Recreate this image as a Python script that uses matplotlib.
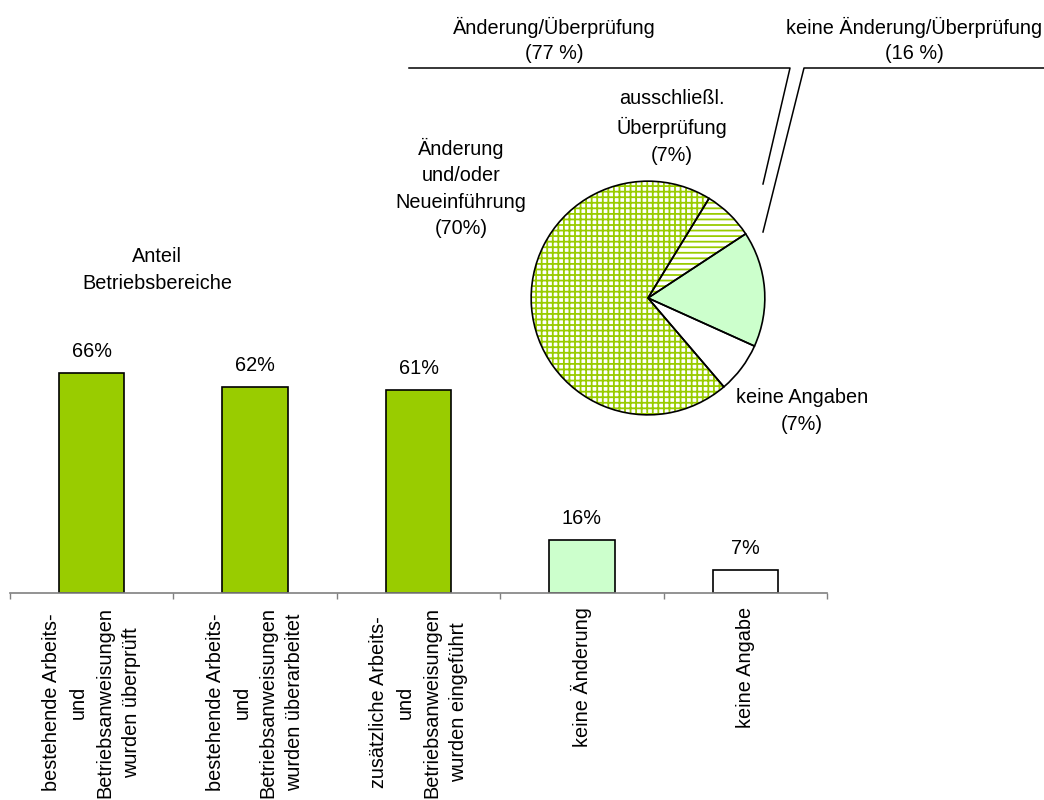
import matplotlib
matplotlib.use("Agg")
import matplotlib.pyplot as plt
from matplotlib.lines import Line2D

plt.rcParams['font.family'] = ['Liberation Sans', 'DejaVu Sans']
plt.rcParams['hatch.linewidth'] = 1.3

# bar chart data
categories = [
    "bestehende Arbeits-\nund\nBetriebsanweisungen\nwurden überprüft",
    "bestehende Arbeits-\nund\nBetriebsanweisungen\nwurden überarbeitet",
    "zusätzliche Arbeits-\nund\nBetriebsanweisungen\nwurden eingeführt",
    "keine Änderung",
    "keine Angabe",
]
bar_values = [66, 62, 61, 16, 7]
bar_colors = ["#99cc00", "#99cc00", "#99cc00", "#ccffcc", "#ffffff"]

# pie data (clockwise from upper right)
pie_values = [7, 16, 7, 70]
pie_labels = ["ausschließl.\nÜberprüfung\n(7%)", "", "keine Angaben\n(7%)",
              "Änderung\nund/oder\nNeueinführung\n(70%)"]
group_labels = ["Änderung/Überprüfung\n(77 %)", "keine Änderung/Überprüfung\n(16 %)"]

W, H = 1044, 800
FS = 14.3
LS = 1.5
GREEN = "#99cc00"


def fx(px):
    return px / W


def fy(py):
    return 1 - py / H


fig = plt.figure(figsize=(W / 100, H / 100), dpi=100)

# bar chart
ax = fig.add_axes([fx(10), fy(593), fx(817), 333 / H])
x = list(range(len(categories)))
bars = ax.bar(x, bar_values, width=0.4, color=bar_colors, edgecolor="black", linewidth=1.2)
ax.set_xlim(-0.5, len(categories) - 0.5)
ax.set_ylim(0, 100)
for s in ["top", "right", "left"]:
    ax.spines[s].set_visible(False)
ax.spines["bottom"].set_color("#808080")
ax.spines["bottom"].set_linewidth(1.2)
ax.set_yticks([])
ax.set_xticks(x)
ax.set_xticklabels(categories, rotation=90, fontsize=FS, linespacing=LS,
                   ha="center", va="top", multialignment="center")
ax.tick_params(axis="x", which="major", length=0, pad=10)
ax.set_xticks([i - 0.5 for i in range(len(categories) + 1)], minor=True)
ax.tick_params(axis="x", which="minor", length=4.5, width=1, color="#808080", direction="out")
ax.bar_label(bars, labels=[f"{v}%" for v in bar_values], padding=8.5, fontsize=FS)

fig.text(fx(157), fy(270), "Anteil\nBetriebsbereiche", ha="center", va="center",
         fontsize=FS, linespacing=LS)

# pie chart
r = 118
pax = fig.add_axes([fx(648 - r), fy(298 + r), fx(2 * r), 2 * r / H])
fills = ["white", "#ccffcc", "white", "white"]
hatches = ["---", None, None, "+++"]
wedges, _ = pax.pie(pie_values, startangle=58.5, counterclock=False, colors=fills,
                    wedgeprops=dict(linewidth=0, edgecolor=GREEN))
for w, h in zip(wedges, hatches):
    if h:
        w.set_hatch(h)
pax.pie(pie_values, startangle=58.5, counterclock=False,
        wedgeprops=dict(fill=False, edgecolor="black", linewidth=1.2))
pax.set_xlim(-1.01, 1.01)
pax.set_ylim(-1.01, 1.01)
pax.set_aspect("auto")
pax.axis("off")

label_pos = [(672, 127), None, (802, 411), (461, 188)]
for lab, pos in zip(pie_labels, label_pos):
    if pos:
        fig.text(fx(pos[0]), fy(pos[1]), lab, ha="center", va="center",
                 fontsize=FS, linespacing=LS)

# group brackets
fig.add_artist(Line2D([fx(409), fx(790), fx(763)], [fy(68), fy(68), fy(184)],
                      color="black", linewidth=1.1))
fig.add_artist(Line2D([fx(1044), fx(804), fx(763)], [fy(68), fy(68), fy(232)],
                      color="black", linewidth=1.1))
fig.text(fx(554), fy(40), group_labels[0], ha="center", va="center", fontsize=FS, linespacing=1.4)
fig.text(fx(914), fy(40), group_labels[1], ha="center", va="center", fontsize=FS, linespacing=1.4)

fig.savefig("out.png", dpi=100)
